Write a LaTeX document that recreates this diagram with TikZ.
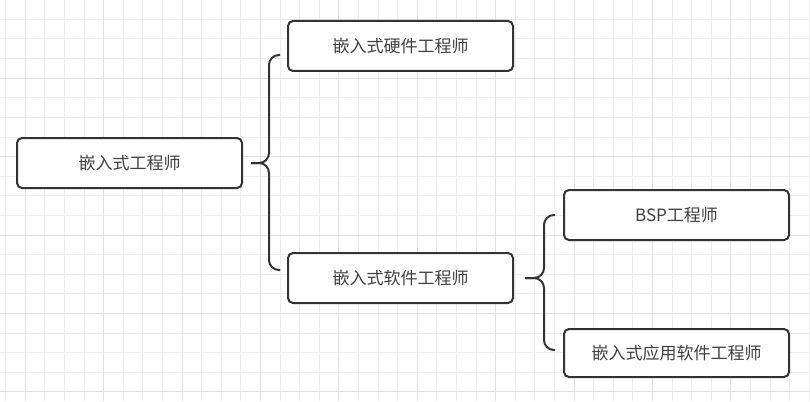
\documentclass[tikz,border=0pt]{standalone}
\usepackage{fontspec}
\newfontfamily\cjk{Noto Sans CJK SC}
\usetikzlibrary{positioning}

\begin{document}
\begin{tikzpicture}
[x=1pt,y=-1pt,
box/.style={rectangle,draw=black!80,fill=white,line width=2pt,rounded corners=5pt,
minimum width=225pt,minimum height=50pt,inner sep=0pt,font=\cjk\fontsize{17pt}{20pt}\selectfont,text=black!75},
brace/.style={draw=black!80,line width=2pt,rounded corners=10pt},
minorline/.style={draw=black!7,line width=1pt},
majorline/.style={draw=black!12,line width=1pt}]

\useasboundingbox (0,0) rectangle (810,401);
\fill[white] (0,0) rectangle (810,401);

% grid in the background
\foreach \i in {-2,...,40}
  \draw[minorline] (25.2+19.6*\i,0) -- ++(0,401);
\foreach \i in {-2,...,18}
  \draw[minorline] (0,39+19.6*\i) -- ++(810,0);
\foreach \i in {0,4,...,36}
  \draw[majorline] (25.2+19.6*\i,0) -- ++(0,401);
\foreach \i in {-2,2,6,10,14,18}
  \draw[majorline] (0,39+19.6*\i) -- ++(810,0);

\node[box] (root) at (129.5,163) {嵌入式工程师};
\node[box] (hw) [right=44pt of root.east, yshift=117pt, anchor=west] {嵌入式硬件工程师};
\node[box] (sw) [below=180pt of hw] {嵌入式软件工程师};
\node[box] (bsp) [right=49pt of sw.east, yshift=63pt, anchor=west] {BSP工程师};
\node[box] (app) [below=87pt of bsp, minimum height=48pt] {嵌入式应用软件工程师};

% first brace
\draw[brace] ([xshift=-7pt,yshift=-9pt]hw.west) -| ([xshift=26pt]root.east) -- ([xshift=8pt]root.east);
\draw[brace] ([xshift=-7pt,yshift=8pt]sw.west) -| ([xshift=26pt]root.east) -- ([xshift=8pt]root.east);

% second brace
\draw[brace] ([xshift=-8pt]bsp.west) -| ([xshift=30pt]sw.east) -- ([xshift=11pt]sw.east);
\draw[brace] ([xshift=-8pt,yshift=3pt]app.west) -| ([xshift=30pt]sw.east) -- ([xshift=11pt]sw.east);

\end{tikzpicture}
\end{document}
